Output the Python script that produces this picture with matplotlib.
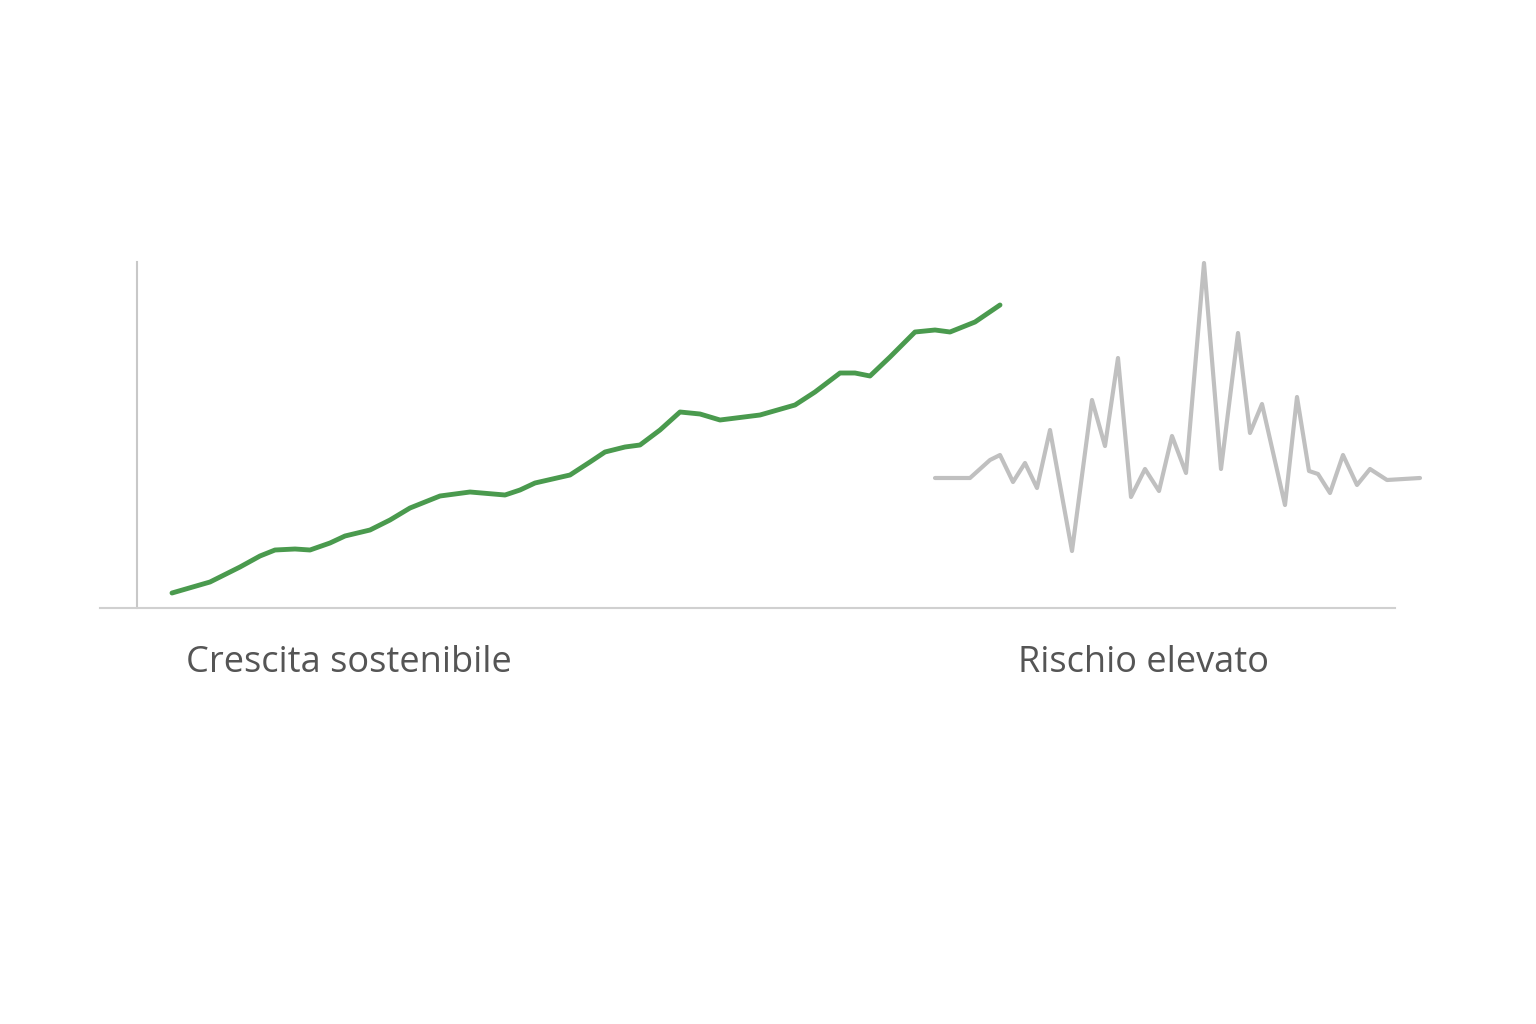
import matplotlib
matplotlib.use("Agg")
import matplotlib.pyplot as plt

green_x = [172,210,240,260,275,295,310,330,345,370,390,410,440,470,505,520,535,570,590,605,625,640,660,680,700,720,760,795,815,840,855,870,890,915,935,950,975,1000]
green_y = [593,582,567,556,550,549,550,543,536,530,520,508,496,492,495,490,483,475,462,452,447,445,430,412,414,420,415,405,392,373,373,376,357,332,330,332,322,305]

gray_x = [935,970,990,1000,1013,1025,1037,1050,1072,1092,1105,1118,1131,1145,1159,1172,1186,1204,1221,1238,1250,1262,1285,1297,1309,1318,1330,1343,1357,1370,1387,1420]
gray_y = [478,478,460,455,482,463,488,430,551,400,446,358,497,469,491,436,473,263,469,333,433,404,505,397,471,474,493,455,485,469,480,478]

labels = ["Crescita sostenibile", "Rischio elevato"]
label_x = [186, 1018]

fig = plt.figure(figsize=(15.36, 10.24), dpi=100)
ax = fig.add_axes([0, 0, 1, 1])
ax.set_xlim(0, 1536)
ax.set_ylim(1024, 0)
ax.axis("off")

ax.plot([137, 137], [262, 608], color="#c8c8c8", lw=1.5)
ax.plot([100, 1395], [608, 608], color="#d0d0d0", lw=1.5)
ax.plot(gray_x, gray_y, color="#c0c0c0", lw=3, solid_joinstyle="round", solid_capstyle="round")
ax.plot(green_x, green_y, color="#4a9a4e", lw=3.5, solid_joinstyle="round", solid_capstyle="round")
for t, x in zip(labels, label_x):
    ax.text(x, 663, t, fontsize=26, color="#555555", family=["Open Sans", "DejaVu Sans"],
            va="center", ha="left")

fig.savefig("out.png", dpi=100, facecolor="white")
